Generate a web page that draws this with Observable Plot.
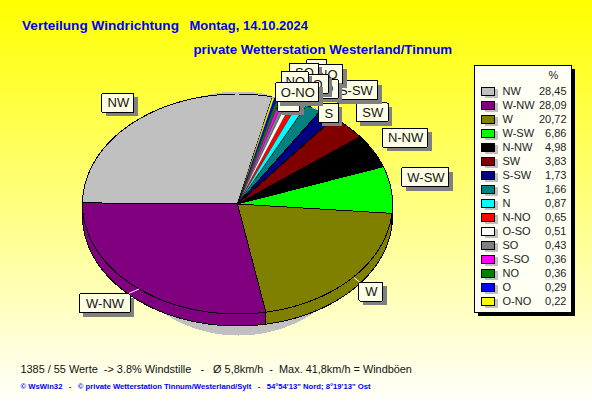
<!DOCTYPE html>
<html><head><meta charset="utf-8">
<script src="https://cdn.jsdelivr.net/npm/d3@7"></script>
<script src="https://cdn.jsdelivr.net/npm/@observablehq/plot@0.6"></script>
<style>html,body{margin:0;padding:0;background:#fff}svg text{white-space:pre}svg{display:block}</style>
</head><body><div id="chart"></div>
<script>
const names = ["NW","W-NW","W","W-SW","N-NW","SW","S-SW","S","N","N-NO","O-SO","SO","S-SO","NO","O","O-NO"];
const percents = [28.45,28.09,20.72,6.86,4.98,3.83,1.73,1.66,0.87,0.65,0.51,0.43,0.36,0.36,0.29,0.22];
const colors = ["#c0c0c0","#800080","#808000","#00ff00","#000000","#800000","#000080","#008080","#00ffff","#ff0000","#ffffff","#808080","#ff00ff","#008000","#0000ff","#ffff00"];
const titleLeft = "Verteilung Windrichtung";
const titleDate = "Montag, 14.10.2024";
const titleStation = "private Wetterstation Westerland/Tinnum";
const footerStats = "1385 / 55 Werte  -> 3.8% Windstille   -   Ø 5,8km/h  -  Max. 41,8km/h = Windböen";
const footerCredit = "© WsWin32   -   © private Wetterstation Tinnum/Westerland/Sylt   -   54°54'13\" Nord; 8°19'13\" Ost";

// pie layout
const pie = {cx:237, cy:203.5, rx:155, ry:110, depth:12, start:13};
const sans = "Liberation Sans, Arial, sans-serif";
const total = d3.sum(percents);
const pt = (t, dy=0) => ({x: pie.cx + pie.rx*Math.sin(t*Math.PI/180), y: pie.cy - pie.ry*Math.cos(t*Math.PI/180) + dy});
const arc = (a, b, dy=0) => { const n = Math.max(2, Math.ceil(Math.abs(a-b))); return d3.range(n+1).map(i => pt(a+(b-a)*i/n, dy)); };

let cursor = pie.start + 360;
const slices = names.map((name,i) => {
  const a = cursor, b = cursor - percents[i]/total*360; cursor = b;
  return {name, a, b, mid:(a+b)/2, small: percents[i] < 1};
});
const faceOf = s => [{x:pie.cx,y:pie.cy}, ...arc(s.a,s.b), {x:pie.cx,y:pie.cy}].map(p => ({...p,name:s.name}));
const faces = slices.filter(s => !s.small).flatMap(faceOf);
const slivers = slices.filter(s => s.small).flatMap(faceOf);
const rims = slices.flatMap(s => { const u = arc(s.a,s.b); const l = arc(s.b,s.a,pie.depth); return [...u,...l,u[0]].map(p => ({...p,name:s.name})); });
const shadow = d3.range(0,361,2).map(t => ({x:238+130*Math.sin(t*Math.PI/180), y:213-122*Math.cos(t*Math.PI/180)}));

// label box: offset from the slice's rim point, and box width
const labelBox = {
  "NW":[-22,-15,32],"W-NW":[-34,15,51],"W":[18,15,24],"W-SW":[35,-11,47],"N-NW":[33,-12,45],"SW":[26,-13,32],
  "S-SW":[30,-23,45],"S":[17,6,20],"N":[16.5,-34,20],"N-NO":[27,-27,44],"O-SO":[28,-11,44],"SO":[20,-26,29],
  "S-SO":[26,-14,44],"NO":[18,-16,27],"O":[15,5,22],"O-NO":[26,-4,43]
};
const labels = slices.map(s => {
  const p = pt(s.mid - 0.6), [dx,dy,w] = labelBox[s.name];
  const c = {x:p.x+dx, y:p.y+dy};
  return {name:s.name, ax:p.x, ay:p.y, x:c.x, y:c.y, x1:c.x-w/2, x2:c.x+w/2, y1:c.y-9.5, y2:c.y+9.5};
});

const legendTop = 91, legendStep = 14;
const rows = names.map((name,i) => ({name, y:legendTop+i*legendStep, value:percents[i].toFixed(2).replace(".",",")}));

const crisp = {shapeRendering:"crispEdges"};
const chart = Plot.plot({
  width:592, height:407, margin:0,
  x:{domain:[0,592], range:[0,592], axis:null},
  y:{domain:[0,407], range:[0,407], axis:null},
  color:{domain:names, range:colors},
  style:{background:"linear-gradient(#ffff00,#ffffff)", fontFamily:sans},
  marks:[
    Plot.line(shadow,{x:"x",y:"y",fill:"#c0c0c0",stroke:"none",...crisp}),
    Plot.line(rims,{x:"x",y:"y",z:"name",fill:"name",stroke:"black",strokeWidth:1,...crisp}),
    Plot.line(faces,{x:"x",y:"y",z:"name",fill:"name",stroke:"black",strokeWidth:1,...crisp}),
    Plot.line(slivers,{x:"x",y:"y",z:"name",fill:"name",stroke:"black",strokeWidth:0.3}),
    Plot.link(labels,{x1:"ax",y1:"ay",x2:"x",y2:"y",stroke:"white",strokeWidth:1}),
    ...labels.flatMap(l => [
      Plot.rect([l],{x1:"x1",x2:"x2",y1:"y1",y2:"y2",fill:"#808080",dx:4,dy:4,...crisp}),
      Plot.rect([l],{x1:"x1",x2:"x2",y1:"y1",y2:"y2",fill:"#ffffe6",stroke:"black",r:1,...crisp}),
      Plot.text([l],{x:"x",y:"y",text:"name",fontSize:13,fill:"#111",lineAnchor:"middle"})
    ]),
    // legend
    Plot.rect([{x1:474,x2:571,y1:65,y2:312}],{x1:"x1",x2:"x2",y1:"y1",y2:"y2",fill:"black",dx:4,dy:4,...crisp}),
    Plot.rect([{x1:474,x2:571,y1:65,y2:312}],{x1:"x1",x2:"x2",y1:"y1",y2:"y2",fill:"#fffff4",stroke:"black",...crisp}),
    Plot.text(["%"],{x:()=>553,y:()=>75,text:d=>d,fontSize:11,fill:"#222",lineAnchor:"middle"}),
    Plot.rect(rows,{x1:()=>485,x2:()=>498,y1:d=>d.y-2,y2:d=>d.y+7,fill:"#c0c0c0",...crisp}),
    Plot.rect(rows,{x1:()=>481,x2:()=>494,y1:d=>d.y-4,y2:d=>d.y+4,fill:"name",stroke:"black",...crisp}),
    Plot.text(rows,{x:()=>502,y:"y",text:"name",textAnchor:"start",fontSize:11,fill:"#222",lineAnchor:"middle"}),
    Plot.text(rows,{x:()=>566,y:"y",text:"value",textAnchor:"end",fontSize:11,fill:"#222",lineAnchor:"middle"}),
    // titles
    Plot.text([titleLeft],{x:()=>21.5,y:()=>25,text:d=>d,textAnchor:"start",fontSize:13.6,fontWeight:"bold",fill:"#0000ff",lineAnchor:"middle"}),
    Plot.text([titleDate],{x:()=>189,y:()=>25,text:d=>d,textAnchor:"start",fontSize:13,fontWeight:"bold",fill:"#0000ff",lineAnchor:"middle"}),
    Plot.text([titleStation],{x:()=>193,y:()=>49,text:d=>d,textAnchor:"start",fontSize:13.3,fontWeight:"bold",fill:"#0000ff",lineAnchor:"middle"}),
    Plot.text([footerStats],{x:()=>20,y:()=>369,text:d=>d,textAnchor:"start",fontSize:10.9,fill:"#111",lineAnchor:"middle"}),
    Plot.text([footerCredit],{x:()=>20,y:()=>386,text:d=>d,textAnchor:"start",fontSize:7.7,fontWeight:"bold",fill:"#0000ff",lineAnchor:"middle"})
  ]
});
document.getElementById("chart").append(chart);
</script></body></html>
